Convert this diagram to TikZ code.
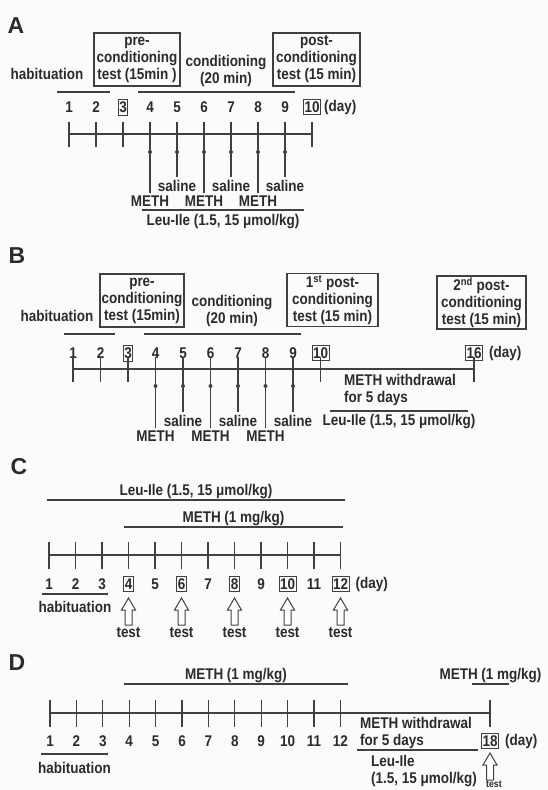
\documentclass[tikz,border=0pt]{standalone}
\usepackage{fontspec}
\setmainfont{Liberation Sans}
\newfontfamily\fuenteEstrecha[FakeStretch=0.87]{Liberation Sans Bold}
\newfontfamily\fuenteLetra{Liberation Sans Bold}
\usetikzlibrary{positioning, calc}
\definecolor{tintagris}{HTML}{2B2B2B}
\definecolor{papelescaneo}{HTML}{FBFBF9}
\colorlet{colTexto}{tintagris}
\colorlet{colLinea}{tintagris!90}
\colorlet{colFondo}{papelescaneo}
\tikzset{
  texto/.style={font=\fuenteEstrecha\fontsize{15.5}{17}\selectfont,
    text=colTexto, inner sep=0pt, align=center},
  textoIzq/.style={texto, align=left},
  cajaPrueba/.style={texto, draw=colLinea, line width=1.2pt,
    minimum height=53pt},
  cajaDia/.style={texto, draw=colLinea, line width=1pt,
    inner xsep=1pt, inner ysep=2.5pt},
  letraPanel/.style={font=\fuenteLetra\fontsize{23}{23}\selectfont,
    text=colTexto, inner sep=0pt},
  eje/.style={colLinea, line width=1.5pt},
  raya/.style={colLinea, line width=1.35pt},
  subraya/.style={colLinea, line width=1.2pt},
  punto/.style={circle, fill=colLinea, inner sep=0pt, minimum size=4pt},
  pics/flechaPrueba/.style={code={
    \draw[colLinea, line width=1pt, fill=white, line join=miter]
      (0,0) -- (7,12) -- (3.5,12) -- (3.5,27) -- (-3.5,27)
      -- (-3.5,12) -- (-7,12) -- cycle;
  }},
}
\begin{document}
\begin{tikzpicture}[x=1pt, y=-1pt]
  \useasboundingbox[fill=colFondo] (0,0) rectangle (548,790);

  %% ---------- A ----------
  \node[letraPanel] (letraA) at (16,26) {A};
  \node[texto] (habA) at (47,74) {habituation};
  \node[cajaPrueba, minimum width=86pt] (preA) at (137,59.5)
    {pre-\\conditioning\\test (15min )};
  \node[texto] (condA) at (226,71) {conditioning\\(20 min)};
  \node[cajaPrueba, minimum width=87pt] (postA) at (316.5,59.5)
    {post-\\conditioning\\test (15 min)};
  \coordinate (hA1) at (57,92);  \coordinate (hA2) at (110,92);
  \coordinate (cA1) at (138,92); \coordinate (cA2) at (295,92);
  \draw[subraya] (hA1) -- (hA2);
  \draw[subraya] (cA1) -- (cA2);
  \foreach \d in {1,...,10}
    \coordinate (A\d) at ({69+27*(\d-1)},134);
  \draw[eje] (A1) -- (A10);
  \foreach \d/\est in {1/texto,2/texto,3/cajaDia,4/texto,5/texto,6/texto,
                       7/texto,8/texto,9/texto,10/cajaDia}
    \node[\est] (nA\d) at ([yshift=27pt]A\d) {\d};
  \node[texto, right=3pt of nA10] (diaA) {(day)};
  \foreach \d in {1,2,3,10}
    \draw[raya] ([yshift=12pt]A\d) -- ([yshift=-13pt]A\d);
  \foreach \d/\largo/\droga in {4/59/METH,5/43/saline,6/59/METH,
                                7/43/saline,8/59/METH,9/43/saline} {
    \coordinate (finA\d) at ([yshift=-\largo pt]A\d);
    \draw[raya] ([yshift=12pt]A\d) -- (finA\d);
    \node[punto] (pA\d) at ([yshift=-18pt]A\d) {};
    \node[texto, below=3pt of finA\d] (etA\d) {\droga};
  }
  \coordinate (lA1) at (142,210); \coordinate (lA2) at (304,210);
  \coordinate (mlA) at ($(lA1)!0.5!(lA2)$);
  \draw[subraya] (lA1) -- (lA2);
  \node[texto, below=4pt of mlA] (leuA) {Leu-Ile (1.5, 15 μmol/kg)};

  %% ---------- B ----------
  \node[letraPanel] (letraB) at (17,256) {B};
  \node[texto] (habB) at (57,316) {habituation};
  \node[cajaPrueba, minimum width=84pt] (preB) at (142,300.5)
    {pre-\\conditioning\\test (15min)};
  \node[texto] (condB) at (232,311) {conditioning\\(20 min)};
  \node[cajaPrueba, minimum width=91pt] (post1B) at (332.5,300)
    {1\textsuperscript{st} post-\\conditioning\\test (15 min)};
  \node[cajaPrueba, minimum width=89pt] (post2B) at (481.5,302.5)
    {2\textsuperscript{nd} post-\\conditioning\\test (15 min)};
  \coordinate (hB1) at (64,334);  \coordinate (hB2) at (115,334);
  \coordinate (cB1) at (144,334); \coordinate (cB2) at (301,334);
  \draw[subraya] (hB1) -- (hB2);
  \draw[subraya] (cB1) -- (cB2);
  \foreach \d in {1,...,10}
    \coordinate (B\d) at ({73+27.5*(\d-1)},369);
  \coordinate (B16) at (474,369);
  \draw[eje] (B1) -- (B16);
  \foreach \d/\est in {1/texto,2/texto,3/cajaDia,4/texto,5/texto,6/texto,
                       7/texto,8/texto,9/texto,10/cajaDia,16/cajaDia}
    \node[\est] (nB\d) at ([yshift=16pt]B\d) {\d};
  \node[texto, right=6pt of nB16] (diaB) {(day)};
  \foreach \d in {1,2,3,10,16}
    \draw[raya] ([yshift=12pt]B\d) -- ([yshift=-13pt]B\d);
  \foreach \d/\largo/\droga in {4/59/METH,5/43/saline,6/59/METH,
                                7/43/saline,8/59/METH,9/43/saline} {
    \coordinate (finB\d) at ([yshift=-\largo pt]B\d);
    \draw[raya] ([yshift=12pt]B\d) -- (finB\d);
    \node[punto] (pB\d) at ([yshift=-17pt]B\d) {};
    \node[texto, below=3pt of finB\d] (etB\d) {\droga};
  }
  \node[textoIzq, anchor=west] (abstB) at (344,390)
    {METH withdrawal\\for 5 days};
  \coordinate (lB1) at (330,411); \coordinate (lB2) at (468,411);
  \coordinate (mlB) at ($(lB1)!0.5!(lB2)$);
  \draw[subraya] (lB1) -- (lB2);
  \node[texto, below=3pt of mlB] (leuB) {Leu-Ile (1.5, 15 μmol/kg)};

  %% ---------- C ----------
  \node[letraPanel] (letraC) at (19,467) {C};
  \coordinate (lC1) at (47,500); \coordinate (lC2) at (345,500);
  \coordinate (mlC) at ($(lC1)!0.5!(lC2)$);
  \draw[subraya] (lC1) -- (lC2);
  \node[texto, above=1pt of mlC] (leuC) {Leu-Ile (1.5, 15 μmol/kg)};
  \coordinate (mC1) at (124,527); \coordinate (mC2) at (343,527);
  \coordinate (mmC) at ($(mC1)!0.5!(mC2)$);
  \draw[subraya] (mC1) -- (mC2);
  \node[texto, above=1pt of mmC] (methC) {METH (1 mg/kg)};
  \foreach \d in {1,...,12}
    \coordinate (C\d) at ({49+26.5*(\d-1)},555);
  \draw[eje] (C1) -- (C12);
  \foreach \d in {1,...,12}
    \draw[raya] ([yshift=13pt]C\d) -- ([yshift=-14pt]C\d);
  \foreach \d/\est in {1/texto,2/texto,3/texto,4/cajaDia,5/texto,6/cajaDia,
                       7/texto,8/cajaDia,9/texto,10/cajaDia,11/texto,12/cajaDia}
    \node[\est] (nC\d) at ([yshift=-29pt]C\d) {\d};
  \node[texto, right=6pt of nC12] (diaC) {(day)};
  \coordinate (hC1) at (42,594); \coordinate (hC2) at (108,594);
  \coordinate (mhC) at ($(hC1)!0.5!(hC2)$);
  \draw[subraya] (hC1) -- (hC2);
  \node[texto, below=7pt of mhC] (habC) {habituation};
  \foreach \d in {4,6,8,10,12} {
    \coordinate (tipC\d) at ([yshift=-43pt]C\d);
    \pic at (tipC\d) {flechaPrueba};
    \coordinate (baseC\d) at ([yshift=-27pt]tipC\d);
    \node[texto, below=2.5pt of baseC\d] (testC\d) {test};
  }

  %% ---------- D ----------
  \node[letraPanel] (letraD) at (17,663) {D};
  \coordinate (mD1) at (124,684); \coordinate (mD2) at (348,684);
  \coordinate (mmD) at ($(mD1)!0.5!(mD2)$);
  \draw[subraya] (mD1) -- (mD2);
  \node[texto, above=1pt of mmD] (methD) {METH (1 mg/kg)};
  \coordinate (rD1) at (472,684); \coordinate (rD2) at (509,684);
  \coordinate (mrD) at ($(rD1)!0.5!(rD2)$);
  \draw[subraya] (rD1) -- (rD2);
  \node[texto, above=1pt of mrD] (methD2) {METH (1 mg/kg)};
  \foreach \d in {1,...,12}
    \coordinate (D\d) at ({50+26.4*(\d-1)},713);
  \coordinate (D18) at (490,713);
  \draw[eje] (D1) -- (D18);
  \foreach \d in {1,...,12,18}
    \draw[raya] ([yshift=13pt]D\d) -- ([yshift=-14pt]D\d);
  \foreach \d/\est in {1/texto,2/texto,3/texto,4/texto,5/texto,6/texto,
                       7/texto,8/texto,9/texto,10/texto,11/texto,12/texto,
                       18/cajaDia}
    \node[\est] (nD\d) at ([yshift=-28pt]D\d) {\d};
  \node[texto, right=6pt of nD18] (diaD) {(day)};
  \node[textoIzq, anchor=west] (abstD) at (360,733)
    {METH withdrawal\\for 5 days};
  \coordinate (lD1) at (357,750); \coordinate (lD2) at (478,750);
  \draw[subraya] (lD1) -- (lD2);
  \node[textoIzq, anchor=north west] (leuD) at (371,755)
    {Leu-Ile\\(1.5, 15 μmol/kg)};
  \coordinate (hD1) at (41,754); \coordinate (hD2) at (108,754);
  \coordinate (mhD) at ($(hD1)!0.5!(hD2)$);
  \draw[subraya] (hD1) -- (hD2);
  \node[texto, below=8pt of mhD] (habD) {habituation};
  \coordinate (tipD18) at ([yshift=-40pt]D18);
  \pic at (tipD18) {flechaPrueba};
  \coordinate (baseD18) at ([yshift=-27pt]tipD18);
  \node[texto, font=\fuenteEstrecha\fontsize{10}{10}\selectfont,
        below right=0.5pt and -4pt of baseD18] (testD18) {test};
\end{tikzpicture}
\end{document}
